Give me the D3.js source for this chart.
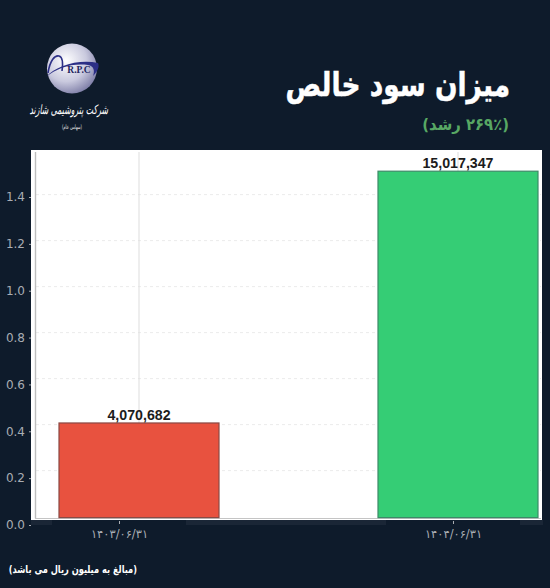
<!DOCTYPE html>
<html>
<head>
<meta charset="utf-8">
<script src="https://cdn.jsdelivr.net/npm/d3@7"></script>
<style>
  html, body { margin: 0; padding: 0; background: #0e1b2b; }
  svg { display: block; }
</style>
</head>
<body>
<svg id="chart" width="550" height="588"></svg>
<script>
// data
const categories = ["۱۴۰۳/۰۶/۳۱", "۱۴۰۴/۰۶/۳۱"];
const values = [4070682, 15017347];
const barColors = ["#e8523f", "#35cd75"];
const barStrokes = ["#8a4a44", "#3d8a68"];
const yTicks = [0, 0.2, 0.4, 0.6, 0.8, 1.0, 1.2, 1.4];

const svg = d3.select("#chart");
const W = 550, H = 588;
const ARABIC = "'DejaVu Sans', sans-serif";

svg.append("rect").attr("width", W).attr("height", H).attr("fill", "#0e1b2b");

// the plot and the axis are slightly misaligned in the original, so two sets of scales
const yPlot = d3.scaleLinear().domain([0, 1.4]).range([516.6, 194.6]);
const yAxis = d3.scaleLinear().domain([0, 1.4]).range([525, 197]);
const xPlot = d3.scaleBand().domain(categories).range([59, 538]).paddingInner(159 / 319);
const xAxis = d3.scalePoint().domain(categories).range([119, 453]);
const xMid = d => xPlot(d) + xPlot.bandwidth() / 2;

// axis strip behind the white panel
const strip = svg.append("g").attr("fill", "#1a2636");
[[31, 21], [186, 200], [520, 23]].forEach(function (s) {
  strip.append("rect").attr("x", s[0]).attr("y", 520).attr("width", s[1]).attr("height", 5);
});

// white panel
svg.append("rect").attr("x", 31).attr("y", 150).attr("width", 511).attr("height", 370).attr("fill", "#fff");

// grid
const grid = svg.append("g");
grid.selectAll("line.h").data(yTicks.slice(1)).enter().append("line")
  .attr("class", "h")
  .attr("x1", 36).attr("x2", 541)
  .attr("y1", yPlot).attr("y2", yPlot)
  .attr("stroke", "#e6e6e6").attr("stroke-width", 0.8).attr("stroke-dasharray", "3,3");
grid.selectAll("line.v").data(categories).enter().append("line")
  .attr("class", "v")
  .attr("x1", xMid).attr("x2", xMid)
  .attr("y1", 152).attr("y2", 517)
  .attr("stroke", "#dddddd").attr("stroke-width", 1);

// inner spines
svg.append("line").attr("x1", 35.5).attr("x2", 35.5).attr("y1", 152).attr("y2", 518.5)
  .attr("stroke", "#bdbdbd").attr("stroke-width", 1.4);
svg.append("line").attr("x1", 35).attr("x2", 541).attr("y1", 518.5).attr("y2", 518.5)
  .attr("stroke", "#c4c4c4").attr("stroke-width", 1.2);

// bars
svg.append("g").selectAll("rect").data(values).enter().append("rect")
  .attr("x", (d, i) => xPlot(categories[i]))
  .attr("width", xPlot.bandwidth())
  .attr("y", d => yPlot(d / 1e7))
  .attr("height", d => yPlot(0) - yPlot(d / 1e7) + 1)
  .attr("fill", (d, i) => barColors[i])
  .attr("stroke", (d, i) => barStrokes[i])
  .attr("stroke-width", 1.2);

// value labels
svg.append("g").selectAll("text").data(values).enter().append("text")
  .attr("x", (d, i) => xMid(categories[i]))
  .attr("y", d => yPlot(d / 1e7) - 3)
  .attr("text-anchor", "middle")
  .attr("font-family", "'Liberation Sans', Arial, sans-serif")
  .attr("font-weight", "bold")
  .attr("font-size", 14.2)
  .attr("fill", "#1c1c1c")
  .text(d => d3.format(",")(d));

// y axis
const gy = svg.append("g").attr("transform", "translate(31,0)")
  .call(d3.axisLeft(yAxis).tickValues(yTicks).tickFormat(d3.format(".1f")).tickSize(2).tickPadding(4));
gy.select(".domain").remove();
gy.selectAll("line").attr("stroke", "#a9adb3");
gy.selectAll("text").attr("font-family", "'DejaVu Sans', sans-serif").attr("font-size", 12).attr("fill", "#a9adb3");

// x axis
const gx = svg.append("g").attr("transform", "translate(0,521)")
  .call(d3.axisBottom(xAxis).tickSize(3).tickPadding(6));
gx.select(".domain").remove();
gx.selectAll("line").attr("stroke", "#a9adb3");
gx.selectAll("text").attr("font-family", ARABIC).attr("font-size", 11.5).attr("fill", "#a9adb3").attr("direction", "ltr");

// rtl text squeezed sideways, the reference font is much narrower than DejaVu
function rtlText(parent, x, y, sx, size, weight, fill, str) {
  return parent.append("text")
    .attr("transform", "translate(" + x + "," + y + ") scale(" + sx + ",1)")
    .attr("text-anchor", "start").attr("direction", "rtl")
    .attr("font-family", ARABIC).attr("font-weight", weight).attr("font-size", size)
    .attr("fill", fill).text(str);
}

// titles
rtlText(svg, 510, 96, 0.8, 33, "bold", "#fff", "میزان سود خالص")
  .attr("stroke", "#fff").attr("stroke-width", 0.5);
rtlText(svg, 509, 130, 0.9, 16.5, "bold", "#58a864", "(۲۶۹٪ رشد)");
rtlText(svg, 137, 573, 0.75, 11, "bold", "#fff", "(مبالغ به میلیون ریال می باشد)");

// logo
const defs = svg.append("defs");
const grad = defs.append("radialGradient").attr("id", "ball").attr("cx", "0.38").attr("cy", "0.35").attr("r", "0.75");
grad.append("stop").attr("offset", "0").attr("stop-color", "#ffffff");
grad.append("stop").attr("offset", "0.55").attr("stop-color", "#c9c9de");
grad.append("stop").attr("offset", "1").attr("stop-color", "#6f6f9c");
const logo = svg.append("g");
logo.append("circle").attr("cx", 72).attr("cy", 68.5).attr("r", 25).attr("fill", "url(#ball)");
logo.append("path").attr("d", "M48,73 C50,60 55,55 59,56 C63,57 63,64 62,71")
  .attr("fill", "none").attr("stroke", "#2c2f86").attr("stroke-width", 1.6);
logo.append("path").attr("d", "M46,77 C56,66 78,59 98,63 C100,67 97,72 93,76 C95,71 94,66 88,65 C72,63 57,68 46,77 Z")
  .attr("fill", "#2c2f86");
logo.append("text").attr("x", 79).attr("y", 72.5).attr("text-anchor", "middle")
  .attr("font-family", "'Liberation Serif', serif").attr("font-weight", "bold").attr("font-size", 9.5)
  .attr("fill", "#23265f").text("R.P.C");
rtlText(logo, 108, 114, 0.6, 13, "normal", "#fff", "شرکت پتروشیمی شازند")
  .attr("font-style", "italic");
rtlText(logo, 82, 129, 0.58, 6.2, "normal", "#e8e8e8", "(سهامی عام)");
</script>
</body>
</html>
